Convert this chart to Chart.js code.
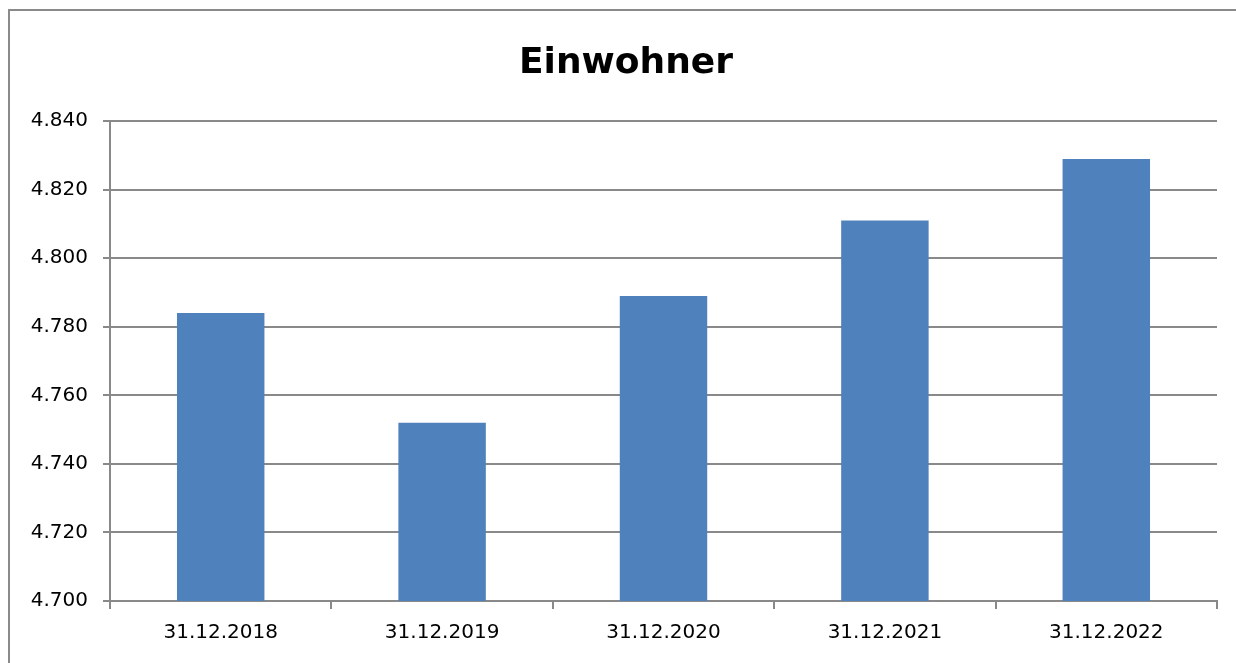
<!DOCTYPE html>
<html>
<head>
<meta charset="utf-8">
<script src="https://cdn.jsdelivr.net/npm/chart.js@4.4.0/dist/chart.umd.min.js"></script>
<style>
  html, body { margin: 0; padding: 0; background: #fff; overflow: hidden; }
  #wrap { position: relative; width: 1236px; height: 663px; }
  #frame {
    position: absolute; left: 8px; top: 9px; width: 1300px; height: 700px;
    border-left: 2px solid #8a8a8a; border-top: 2px solid #8a8a8a;
    pointer-events: none;
  }
</style>
</head>
<body>
<div id="wrap">
  <canvas id="chart" width="1236" height="663"></canvas>
  <div id="frame"></div>
</div>
<script>
// Daten
const categories = ['31.12.2018', '31.12.2019', '31.12.2020', '31.12.2021', '31.12.2022'];
const einwohner = [4784, 4752, 4789, 4811, 4829];
const yTicks = [4700, 4720, 4740, 4760, 4780, 4800, 4820, 4840];

const gridColor = '#898989';
const textColor = '#000000';

// Tausendertrennzeichen mit Punkt
function formatDe(v) {
  return String(v).replace(/\B(?=(\d{3})+(?!\d))/g, '.');
}

new Chart(document.getElementById('chart'), {
  type: 'bar',
  data: {
    labels: categories,
    datasets: [
      {
        label: 'Einwohner',
        data: einwohner,
        backgroundColor: '#4f81bd',
        borderWidth: 0,
        categoryPercentage: 1,
        barPercentage: 0.395,
      },
    ],
  },
  options: {
    responsive: false,
    animation: false,
    layout: { padding: { left: 16, right: 0, top: 0, bottom: 0 } },
    plugins: {
      legend: { display: false },
      tooltip: { enabled: false },
      title: {
        display: true,
        text: 'Einwohner',
        color: textColor,
        font: { family: 'DejaVu Sans', size: 36, weight: 'bold' },
        padding: { top: 42, bottom: 36 },
      },
    },
    scales: {
      x: {
        grid: {
          display: true,
          drawOnChartArea: false,
          drawTicks: true,
          tickLength: 8,
          color: gridColor,
          lineWidth: 2,
          offset: true,
        },
        border: { display: true, color: gridColor, width: 2 },
        ticks: {
          color: textColor,
          font: { family: 'DejaVu Sans', size: 20 },
          padding: 12,
          maxRotation: 0,
        },
        afterFit: (scale) => { scale.height = 62; },
      },
      y: {
        min: 4700,
        max: 4840,
        afterBuildTicks: (scale) => {
          scale.ticks = yTicks.map((v) => ({ value: v }));
        },
        grid: {
          color: gridColor,
          lineWidth: 2,
          tickLength: 7,
        },
        border: { display: true, color: gridColor, width: 2 },
        ticks: {
          color: textColor,
          font: { family: 'DejaVu Sans', size: 20 },
          padding: 15,
          callback: (v) => formatDe(v),
        },
        afterFit: (scale) => { scale.width = 94; },
      },
      // leerer Platzhalter rechts, damit der Titel mittig über der ganzen Fläche steht
      spacer: {
        type: 'linear',
        position: 'right',
        display: true,
        grid: { display: false },
        border: { display: false },
        ticks: { display: false },
        afterFit: (scale) => { scale.width = 19; },
      },
    },
  },
});
</script>
</body>
</html>
